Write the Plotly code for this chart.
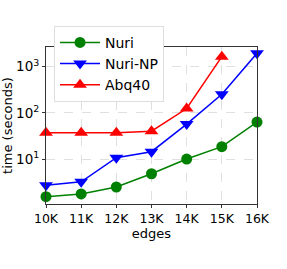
import plotly.graph_objects as go

edges = ["10K", "11K", "12K", "13K", "14K", "15K", "16K"]
x_vals = [10, 11, 12, 13, 14, 15, 16]
nuri = [1.53, 1.75, 2.48, 4.8, 10, 18.5, 63]
nuri_np = [2.7, 3.2, 10.7, 14.4, 57, 252, 1950]
abq40 = [37, 37, 37, 40, 124, 1650]

font = "DejaVu Sans"
fig = go.Figure()
fig.add_trace(go.Scatter(x=x_vals, y=nuri, name="Nuri", mode="lines+markers",
                         legendgroup="a",
                         line=dict(color="green", width=1.5),
                         marker=dict(symbol="circle", size=11, color="green"),
                         cliponaxis=False))
fig.add_trace(go.Scatter(x=x_vals, y=nuri_np, name="Nuri-NP", mode="lines+markers",
                         legendgroup="b",
                         line=dict(color="blue", width=1.5),
                         marker=dict(symbol="triangle-down", size=12, color="blue"),
                         cliponaxis=False))
fig.add_trace(go.Scatter(x=x_vals[:len(abq40)], y=abq40, name="Abq40", mode="lines+markers",
                         legendgroup="c",
                         line=dict(color="red", width=1.5),
                         marker=dict(symbol="triangle-up", size=12, color="red"),
                         cliponaxis=False))

fig.update_layout(
    width=287, height=269,
    margin=dict(l=46, r=30, t=47, b=65),
    paper_bgcolor="white", plot_bgcolor="white",
    font=dict(family=font, size=12, color="black"),
    showlegend=True,
    legend=dict(x=0.038, y=1.135, xanchor="left", yanchor="top",
                bgcolor="white", bordercolor="#dddddd", borderwidth=1,
                font=dict(size=14), itemwidth=40, tracegroupgap=0),
    xaxis=dict(range=[10, 16], tickvals=x_vals, ticktext=edges,
               automargin=False,
               showline=True, mirror=True, linecolor="#333333", linewidth=1,
               ticks="outside", ticklen=3, tickcolor="#333333",
               showgrid=True, gridcolor="#e0e0e0", griddash="dash",
               zeroline=False, tickfont=dict(size=12.5),
               title=dict(text="edges", font=dict(size=13), standoff=3)),
    yaxis=dict(type="log", range=[0.026, 3.426],
               automargin=False,
               tickvals=[10, 100, 1000],
               ticktext=["10<sup>1</sup>", "10<sup>2</sup>", "10<sup>3</sup>"],
               showline=True, mirror=True, linecolor="#333333", linewidth=1,
               ticks="outside", ticklen=3, tickcolor="#333333",
               showgrid=True, gridcolor="#e0e0e0", griddash="dash",
               zeroline=False, tickfont=dict(size=13.5),
               title=dict(text="time (seconds)", font=dict(size=13), standoff=5)),
)

fig.write_html("out.html", config={"displayModeBar": False},
               post_script="document.body.style.margin='0';document.body.style.padding='0';")
